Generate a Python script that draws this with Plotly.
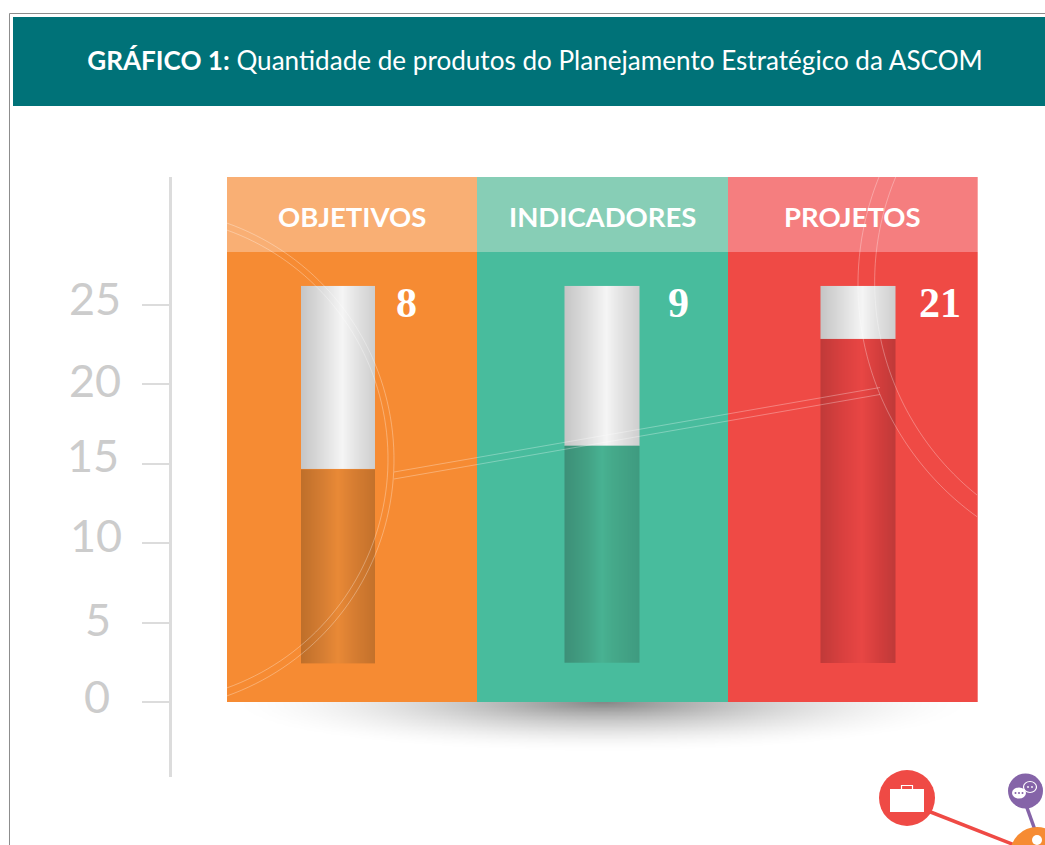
import numpy as np
import plotly.graph_objects as go

W, H = 1045, 845

# ---- data -------------------------------------------------------------
categories = ["OBJETIVOS", "INDICADORES", "PROJETOS"]
value_labels = ["8", "9", "21"]
fill_top = [14.65, 16.14, 22.86]      # height of the coloured part, read on the axis
column_base = [2.46, 2.46, 2.46]
column_top = [26.2, 26.2, 26.2]
panel_top = [28.34, 28.34, 28.34]
header_top = [33.06, 33.06, 33.06]
tick_values = [0, 5, 10, 15, 20, 25]
tick_labels = ["0", "5", "10", "15", "20", "25"]

# ---- styles -----------------------------------------------------------
panel_colors = ["#F68B33", "#48BC9D", "#EF4A45"]
header_colors = ["#F9AF74", "#87CEB6", "#F57E7F"]
silver = [[0, "#c6c6c6"], [0.25, "#dadada"], [0.56, "#f5f5f5"], [0.75, "#e3e3e3"], [1, "#cfcfcf"]]
fill_scales = [
    [[0, "#BF6F2A"], [0.3, "#D67E33"], [0.5, "#E98936"], [0.7, "#D87E32"], [1, "#C3712B"]],
    [[0, "#3D9078"], [0.3, "#43A184"], [0.5, "#48B292"], [0.65, "#45A98A"], [1, "#3F9B80"]],
    [[0, "#C13A39"], [0.3, "#DA403F"], [0.55, "#E84644"], [0.8, "#D23D3C"], [1, "#C03A39"]],
]
column_px = [(301, 375), (564.5, 639.5), (820.5, 895.5)]
value_label_px = [406, 678, 940]
tick_label_px = [97, 98, 96, 93, 95, 95]
tick_label_shift = [6, 4, 8, 9, 4, 7]
TEAL = "#007278"
SANS = "Lato"

# ---- pixel helpers ----------------------------------------------------
X0, X1 = 226.7, 977.7
UNIT = (X1 - X0) / 3
def px2x(px):
    return (px - X0) / UNIT - 0.5
def px(x):
    return x / W
def py(y):
    return 1 - y / H

def poly(points):
    return "M " + " L ".join(f"{px(a):.5f},{py(b):.5f}" for a, b in points)

def ellipse(cx, cy, rx, ry, **kw):
    return dict(type="circle", xref="paper", yref="paper", x0=px(cx - rx), x1=px(cx + rx),
                y0=py(cy + ry), y1=py(cy - ry), **kw)

def rect(x0, y0, x1, y1, color):
    return dict(type="rect", xref="paper", yref="paper", x0=px(x0), x1=px(x1), y0=py(y1), y1=py(y0),
                fillcolor=color, line_width=0)

def circle3(a, b, c):
    m = np.array([[2 * (b[0] - a[0]), 2 * (b[1] - a[1])], [2 * (c[0] - a[0]), 2 * (c[1] - a[1])]])
    v = np.array([b[0] ** 2 + b[1] ** 2 - a[0] ** 2 - a[1] ** 2, c[0] ** 2 + c[1] ** 2 - a[0] ** 2 - a[1] ** 2])
    cx, cy = np.linalg.solve(m, v)
    return cx, cy, np.hypot(a[0] - cx, a[1] - cy)

def arc(a, b, c):
    cx, cy, r = circle3(a, b, c)
    t0, t1 = np.arctan2(a[1] - cy, a[0] - cx), np.arctan2(c[1] - cy, c[0] - cx)
    tm = np.arctan2(b[1] - cy, b[0] - cx)
    def unw(t):
        return (t - t0) % (2 * np.pi)
    if unw(tm) > unw(t1):
        ts = t0 - np.linspace(0, 2 * np.pi - unw(t1), 80)
    else:
        ts = t0 + np.linspace(0, unw(t1), 80)
    return [(cx + r * np.cos(t), cy + r * np.sin(t)) for t in ts]

# ---- figure -----------------------------------------------------------
fig = go.Figure()

# soft shadow under the panel
sx = np.linspace(-0.5, 2.5, 120)
sy = np.linspace(-3.3, 0, 40)
gx, gy = np.meshgrid((sx - 1.0) / 1.49, sy / 3.1)
shadow = np.clip(1 - np.sqrt(gx ** 2 + gy ** 2), 0, 1) ** 1.7
fig.add_trace(go.Heatmap(x=sx, y=sy, z=shadow, zsmooth="best", zmin=0, zmax=1, showscale=False,
                         colorscale=[[0, "#ffffff"], [1, "#868686"]], hoverinfo="skip"))

# coloured panels and lighter headers
x_pos = list(range(len(categories)))
fig.add_trace(go.Bar(x=x_pos, y=panel_top, base=0, width=1, marker=dict(color=panel_colors, line_width=0),
                     hoverinfo="skip", showlegend=False))
fig.add_trace(go.Bar(x=x_pos, y=[h - p for h, p in zip(header_top, panel_top)], base=panel_top, width=1,
                     marker=dict(color=header_colors, line_width=0), hoverinfo="skip", showlegend=False))

# cylinders (overlay axes, so that they sit above the panels)
STRIPS = 74
ramp = [list(np.linspace(0, 1, STRIPS))]
for i in x_pos:
    edges = px2x(np.linspace(column_px[i][0], column_px[i][1], STRIPS + 1))
    fig.add_trace(go.Heatmap(x=edges, y=[fill_top[i], column_top[i]], z=ramp, zmin=0, zmax=1, xaxis="x2", yaxis="y2",
                             colorscale=silver, showscale=False, hoverinfo="skip"))
    fig.add_trace(go.Heatmap(x=edges, y=[column_base[i], fill_top[i]], z=ramp, zmin=0, zmax=1, xaxis="x2", yaxis="y2",
                             colorscale=fill_scales[i], showscale=False, hoverinfo="skip"))

# ---- decoration -------------------------------------------------------
shapes = [
    dict(type="path", xref="paper", yref="paper", path=poly([(9.5, H), (9.5, 13.5), (W, 13.5)]),
         line=dict(color="#8c8c8c", width=1)),
    rect(13, 17, W, 106, TEAL),
]
thin = dict(color="rgba(255,255,255,0.3)", width=1)
arcs = [
    arc((226.7, 223), (394, 459.5), (226.7, 696)),
    arc((226.7, 230), (388, 459), (226.7, 688)),
    arc((895.7, 177), (874.7, 277), (977, 495)),
    arc((879, 177), (858, 283), (977, 516.7)),
    [(394, 472), (880, 387.5)],
    [(394, 479), (880, 394.5)],
]
for a in arcs:
    shapes.append(dict(type="path", xref="paper", yref="paper", path=poly(a), line=thin))

# network icons, bottom right
shapes += [
    dict(type="line", xref="paper", yref="paper", x0=px(928), y0=py(811), x1=px(1030), y1=py(851),
         line=dict(color="#EF4A45", width=3.5)),
    dict(type="line", xref="paper", yref="paper", x0=px(1026), y0=py(805), x1=px(1035), y1=py(830),
         line=dict(color="#8564A8", width=3.5)),
    ellipse(907, 798, 28, 28, fillcolor="#EF4A45", line_width=0),
    ellipse(1025.5, 791, 17.5, 17.5, fillcolor="#8564A8", line_width=0),
    ellipse(1037, 854, 27, 27, fillcolor="#F68B33", line_width=0),
    ellipse(1037, 840, 5, 5, fillcolor="#ffffff", line_width=0),
    rect(890, 789, 924, 812, "#ffffff"),
    dict(type="path", xref="paper", yref="paper", path=poly([(901.5, 789), (901.5, 785.5), (912.5, 785.5), (912.5, 789)]),
         line=dict(color="#ffffff", width=1.2)),
    ellipse(1030, 787, 6.5, 5.5, fillcolor="rgba(0,0,0,0)", line=dict(color="#ffffff", width=1.2)),
    ellipse(1019, 793, 7, 5.5, fillcolor="#ffffff", line_width=0),
]
for dx in (1015.5, 1019, 1022.5):
    shapes.append(ellipse(dx, 793, 1, 1, fillcolor="#8564A8", line_width=0))
for dx in (1028, 1032):
    shapes.append(ellipse(dx, 787, 0.9, 0.9, fillcolor="#ffffff", line_width=0))

# ---- texts ------------------------------------------------------------
annotations = []
for i, name in enumerate(categories):
    annotations.append(dict(x=i, y=(panel_top[i] + header_top[i]) / 2, xref="x", yref="y", text=f"<b>{name}</b>",
                            showarrow=False, xanchor="center", yshift=-2,
                            font=dict(family=SANS, size=27.5, color="#ffffff")))
    annotations.append(dict(x=px2x(value_label_px[i]), y=column_top[i], xref="x", yref="y", text=f"<b>{value_labels[i]}</b>",
                            showarrow=False, xanchor="center", yanchor="middle", yshift=-17,
                            font=dict(family="Liberation Serif", size=42, color="#ffffff")))
for v, t, lx, ls in zip(tick_values, tick_labels, tick_label_px, tick_label_shift):
    annotations.append(dict(x=px(lx), y=v, xref="paper", yref="y", text=t, showarrow=False, xanchor="center", yshift=ls,
                            font=dict(family=SANS, size=45, color="#cccccc")))

fig.update_layout(
    width=W, height=H, margin=dict(l=0, r=0, t=0, b=0), autosize=False,
    paper_bgcolor="#ffffff", plot_bgcolor="rgba(0,0,0,0)",
    showlegend=False, bargap=0, barmode="overlay",
    title=dict(text="<b>GRÁFICO 1:</b> Quantidade de produtos do Planejamento Estratégico da ASCOM",
               x=535 / W, xanchor="center", xref="paper", y=py(60.5), yanchor="middle", yref="paper",
               font=dict(family=SANS, size=26.1, color="#ffffff")),
    xaxis=dict(domain=[px(X0), px(X1)], range=[-0.5, 2.5], visible=False, fixedrange=True),
    yaxis=dict(domain=[py(777), py(177)], range=[-4.72, 33.06], anchor="free", position=px(170),
               tickvals=tick_values, ticktext=[""] * len(tick_values), ticks="outside", ticklen=27, tickwidth=2,
               tickcolor="#dcdcdc", linecolor="#dcdcdc", linewidth=3, showline=True,
               showgrid=False, zeroline=False, fixedrange=True),
    xaxis2=dict(domain=[px(X0), px(X1)], range=[-0.5, 2.5], visible=False, overlaying="x", anchor="y2", fixedrange=True),
    yaxis2=dict(domain=[py(777), py(177)], range=[-4.72, 33.06], visible=False, overlaying="y", anchor="x2", fixedrange=True),
    shapes=shapes, annotations=annotations,
)

fig.write_html("out.html", config=dict(displayModeBar=False),
               post_script="document.body.style.margin='0';document.body.style.overflow='hidden';")
